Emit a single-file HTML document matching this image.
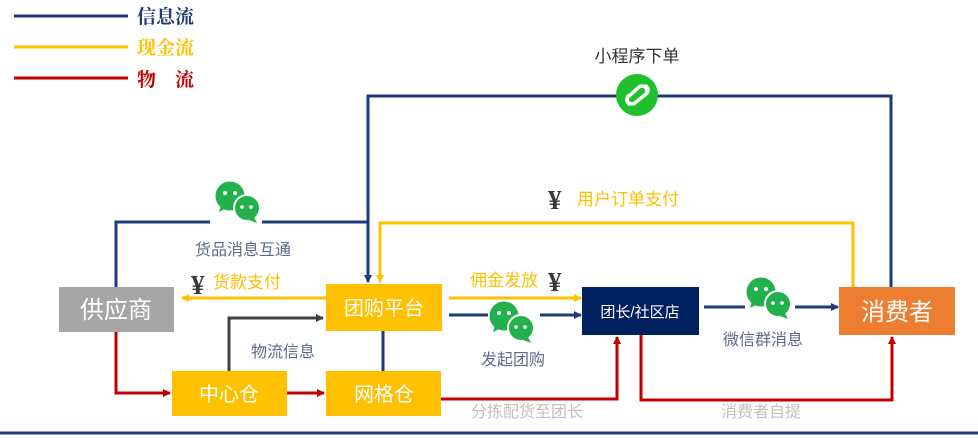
<!DOCTYPE html>
<html><head><meta charset="utf-8"><style>
html,body{margin:0;padding:0;background:#fff;}
svg{display:block;}
text{font-family:"Liberation Sans","Noto Sans CJK SC",sans-serif;}
.lg{font-family:"Liberation Serif","Noto Serif CJK SC",serif;font-weight:bold;font-size:19px;}
.yen{font-family:"Liberation Serif","Noto Serif CJK SC",serif;font-weight:bold;font-size:27px;fill:#3a3a3a;}
</style></head><body>
<svg width="978" height="440" viewBox="0 0 978 440" xmlns="http://www.w3.org/2000/svg">
<defs>
<marker id="ab" markerWidth="8" markerHeight="8" refX="7" refY="4" orient="auto" markerUnits="userSpaceOnUse"><path d="M0,0 L8,4 L0,8 Z" fill="#1f3a7a"/></marker>
<marker id="ay" markerWidth="8" markerHeight="8" refX="7" refY="4" orient="auto" markerUnits="userSpaceOnUse"><path d="M0,0 L8,4 L0,8 Z" fill="#ffc000"/></marker>
<marker id="ar" markerWidth="8" markerHeight="8" refX="7" refY="4" orient="auto" markerUnits="userSpaceOnUse"><path d="M0,0 L8,4 L0,8 Z" fill="#c00000"/></marker>
<marker id="ag" markerWidth="8" markerHeight="8" refX="7" refY="4" orient="auto" markerUnits="userSpaceOnUse"><path d="M0,0 L8,4 L0,8 Z" fill="#404040"/></marker>
<g id="wc">
<circle cx="0" cy="0" r="15" fill="#22b14c" stroke="#fff" stroke-width="1"/>
<path d="M-9,9 L-11,16 L-3,12 Z" fill="#22b14c"/>
<circle cx="-5" cy="-3" r="2" fill="#fff"/><circle cx="5" cy="-3" r="2" fill="#fff"/>
<circle cx="17" cy="12" r="13" fill="#22b14c" stroke="#fff" stroke-width="2"/>
<path d="M24,21 L27,27 L19,24 Z" fill="#22b14c"/>
<circle cx="12" cy="11" r="1.8" fill="#fff"/><circle cx="21" cy="11" r="1.8" fill="#fff"/>
</g>
</defs>

<line x1="14" y1="16" x2="128" y2="16" stroke="#1f3a7a" stroke-width="3"/>
<text x="137" y="23" class="lg" fill="#1f3a7a">信息流</text>
<line x1="14" y1="47" x2="128" y2="47" stroke="#ffc000" stroke-width="3"/>
<text x="137" y="54" class="lg" fill="#ffc000">现金流</text>
<line x1="14" y1="78" x2="128" y2="78" stroke="#c00000" stroke-width="3"/>
<text x="137" y="86" class="lg" fill="#c00000">物　流</text>

<polyline points="891,287 891,96 368,96 368,282" fill="none" stroke="#1f3a7a" stroke-width="3" marker-end="url(#ab)"/>
<circle cx="637" cy="95" r="21" fill="#1ec02b"/>
<path d="M629,104 a5,5 0 0 1 0,-8 L638,88 a5,5 0 0 1 8,6 M646,86 a5,5 0 0 1 0,8 L636,102 a5,5 0 0 1 -8,-6" fill="none" stroke="#fff" stroke-width="3.5" stroke-linecap="round"/>
<text x="637" y="62" font-size="17" fill="#333" text-anchor="middle">小程序下单</text>

<polyline points="116,287 116,222 210,222" fill="none" stroke="#1f3a7a" stroke-width="3"/>
<line x1="262" y1="222" x2="368" y2="222" stroke="#1f3a7a" stroke-width="3"/>
<use href="#wc" x="230" y="196"/>
<text x="243" y="255" font-size="16" fill="#5a6a8a" text-anchor="middle">货品消息互通</text>
<text x="191" y="294" class="yen">¥</text>
<text x="213" y="288" font-size="17" fill="#ffc000">货款支付</text>
<line x1="326" y1="298" x2="182" y2="298" stroke="#ffc000" stroke-width="3" marker-end="url(#ay)"/>

<polyline points="853,287 853,223 380,223 380,282" fill="none" stroke="#ffc000" stroke-width="3" marker-end="url(#ay)"/>
<text x="548" y="209" class="yen">¥</text>
<text x="577" y="205" font-size="17" fill="#ffc000">用户订单支付</text>

<rect x="59" y="287" width="115" height="45" fill="#a6a6a6"/>
<text x="116" y="318" font-size="24" fill="#fff" text-anchor="middle">供应商</text>
<rect x="326" y="284" width="116" height="47" fill="#ffc000"/>
<text x="384" y="315" font-size="20" fill="#fff" text-anchor="middle">团购平台</text>
<rect x="172" y="371" width="115" height="45" fill="#ffc000"/>
<text x="229" y="401" font-size="20" fill="#fff" text-anchor="middle">中心仓</text>
<rect x="326" y="371" width="115" height="45" fill="#ffc000"/>
<text x="384" y="401" font-size="20" fill="#fff" text-anchor="middle">网格仓</text>
<rect x="582" y="287" width="117" height="48" fill="#002060"/>
<text x="640" y="317" font-size="15" fill="#fff" text-anchor="middle">团长/社区店</text>
<rect x="839" y="287" width="116" height="48" fill="#ed7d31"/>
<text x="897" y="320" font-size="24" fill="#fff" text-anchor="middle">消费者</text>

<text x="470" y="286" font-size="17" fill="#ffc000">佣金发放</text>
<text x="548" y="291" class="yen">¥</text>
<line x1="449" y1="298" x2="581" y2="298" stroke="#ffc000" stroke-width="3" marker-end="url(#ay)"/>
<line x1="449" y1="315" x2="488" y2="315" stroke="#1f3a7a" stroke-width="3"/>
<line x1="540" y1="315" x2="581" y2="315" stroke="#1f3a7a" stroke-width="3" marker-end="url(#ab)"/>
<use href="#wc" x="504" y="316"/>
<text x="513" y="365" font-size="16" fill="#5a6a8a" text-anchor="middle">发起团购</text>

<line x1="704" y1="307" x2="745" y2="307" stroke="#1f3a7a" stroke-width="3"/>
<line x1="795" y1="307" x2="838" y2="307" stroke="#1f3a7a" stroke-width="3" marker-end="url(#ab)"/>
<use href="#wc" x="761" y="292"/>
<text x="763" y="345" font-size="16" fill="#5a6a8a" text-anchor="middle">微信群消息</text>

<line x1="383" y1="331" x2="383" y2="371" stroke="#1f3a7a" stroke-width="3"/>

<polyline points="229,371 229,318 323,318" fill="none" stroke="#404040" stroke-width="3" marker-end="url(#ag)"/>
<text x="283" y="357" font-size="16" fill="#5a6a8a" text-anchor="middle">物流信息</text>

<polyline points="116,332 116,393 170,393" fill="none" stroke="#c00000" stroke-width="3" marker-end="url(#ar)"/>
<line x1="287" y1="393" x2="324" y2="393" stroke="#c00000" stroke-width="3" marker-end="url(#ar)"/>
<polyline points="441,399 617,399 617,337" fill="none" stroke="#c00000" stroke-width="3" marker-end="url(#ar)"/>
<polyline points="641,335 641,400 892,400 892,337" fill="none" stroke="#c00000" stroke-width="3" marker-end="url(#ar)"/>
<text x="527" y="417" font-size="16" fill="#c0c0c0" text-anchor="middle">分拣配货至团长</text>
<text x="761" y="417" font-size="16" fill="#c0c0c0" text-anchor="middle">消费者自提</text>

<line x1="0" y1="433" x2="978" y2="433" stroke="#1f3a7a" stroke-width="3"/>
</svg>
</body></html>
